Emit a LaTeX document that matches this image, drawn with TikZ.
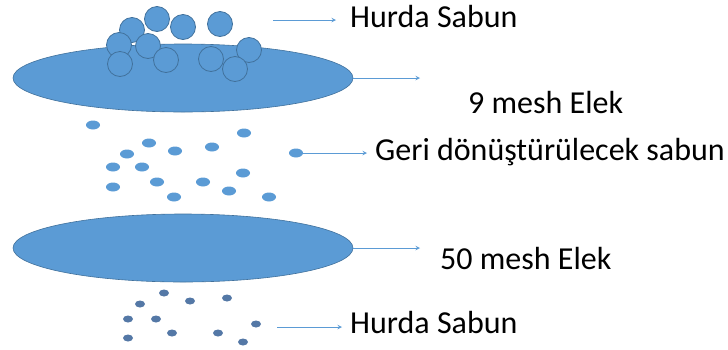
\documentclass[tikz,border=0pt]{standalone}
\usepackage{fontspec}
\setmainfont{Carlito}
\usepackage{tikz}
\usetikzlibrary{shapes.geometric, arrows}
\definecolor{soapblue}{RGB}{91, 155, 213}
\definecolor{soapedge}{RGB}{65, 113, 156}
\definecolor{finedot}{RGB}{84, 120, 166}
\tikzstyle{arrow} = [line width=1pt, ->, >=stealth, soapblue]

\begin{document}
\begin{tikzpicture}[x=1pt, y=-1pt,
		sieve/.style={ellipse, draw=soapedge, fill=soapblue, line width=0.6pt,
			minimum width=340pt, minimum height=68pt, inner sep=0pt},
		lump/.style={circle, draw=soapedge, fill=soapblue, line width=0.8pt,
			inner sep=0pt, minimum size=25pt},
		dot/.style={ellipse, fill=soapblue, inner sep=0pt,
			minimum width=14pt, minimum height=9pt},
		fine/.style={ellipse, fill=finedot, inner sep=0pt,
			minimum width=10pt, minimum height=7pt},
		lbl/.style={font=\fontsize{32}{38}\selectfont, inner sep=0pt, anchor=base west}]
	
	\useasboundingbox (0,0) rectangle (728,349);
	
	%% ── sieves ──
	\node[sieve] (E1) at (183,78) {};
	\node[sieve] (E2) at (183,248) {};
	
	%% ── scrap soap lumps on the 9 mesh sieve ──
	\foreach \x/\y [count=\i] in {157/19, 183/27, 220/24, 132/30, 119/45, 148/46,
		249/50, 120/64, 166/60, 211/59, 235/69}
	\node[lump] (L\i) at (\x,\y) {};
	
	%% ── soap to be recycled ──
	\foreach \x/\y [count=\i] in {93/125, 244/133, 149/143, 127/154, 175/151, 212/147,
		113/167, 142/167, 243/173, 157/182, 203/182, 113/187, 229/191, 174/197, 269/197}
	\node[dot] (D\i) at (\x,\y) {};
	\node[dot] (G) at (296,153) {};
	
	%% ── fines under the 50 mesh sieve ──
	\foreach \x/\y [count=\i] in {164/293, 140/304, 190/301, 227/298, 128/319, 156/319,
		256/324, 172/333, 218/333, 128/338, 243/342}
	\node[fine] (F\i) at (\x,\y) {};
	
	%% ── labels ──
	\node[lbl] (T1) at (350,27) {Hurda Sabun};
	\node[lbl] (T2) at (468,113) {9 mesh Elek};
	\node[lbl] (T3) at (375,160) {Geri dönüştürülecek sabun};
	\node[lbl] (T4) at (440,269) {50 mesh Elek};
	\node[lbl] (T5) at (350,333) {Hurda Sabun};
	
	%% ── connectors ──
	\coordinate (a1) at (273,20);
	\coordinate (a5) at (277,327);
	\coordinate (e1) at (420,78);
	\coordinate (e2) at (420,248);
	
	\draw[arrow, shorten >=14pt] (a1) -- (a1 -| T1.west);
	\draw[arrow] (E1.east) -- (e1);
	\draw[arrow, shorten >=8pt] (G.east) -- (G -| T3.west);
	\draw[arrow] (E2.east) -- (e2);
	\draw[arrow, shorten >=8pt] (a5) -- (a5 -| T5.west);
	
\end{tikzpicture}
\end{document}
